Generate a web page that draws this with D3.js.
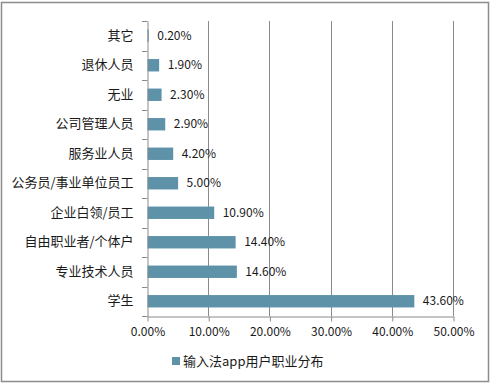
<!DOCTYPE html>
<html>
<head>
<meta charset="utf-8">
<script src="https://cdn.jsdelivr.net/npm/d3@7"></script>
<style>
  body { margin: 0; background: #fff; }
  text { font-family: "Noto Sans CJK SC", "Noto Sans", sans-serif; fill: #1a1a1a; }
</style>
</head>
<body>
<div id="chart"></div>
<script>
// categories, top to bottom
var categories = ["其它", "退休人员", "无业", "公司管理人员", "服务业人员",
                  "公务员/事业单位员工", "企业白领/员工", "自由职业者/个体户", "专业技术人员", "学生"];
var values = [0.2, 1.9, 2.3, 2.9, 4.2, 5.0, 10.9, 14.4, 14.6, 43.6];
var xTicks = [0, 10, 20, 30, 40, 50];
var seriesName = "输入法app用户职业分布";

var W = 494, H = 386;
var margin = {top: 21, right: 41, bottom: 70, left: 147};
var width = W - margin.left - margin.right,
    height = H - margin.top - margin.bottom;

var svg = d3.select("#chart").append("svg")
    .attr("width", W).attr("height", H);

// outer frame
svg.append("rect")
    .attr("x", 1.5).attr("y", 2.5)
    .attr("width", 487).attr("height", 379)
    .attr("fill", "none").attr("stroke", "#8c8c8c").attr("stroke-width", 1.5);

var g = svg.append("g")
    .attr("transform", "translate(" + margin.left + "," + margin.top + ")");

var x = d3.scaleLinear().domain([0, 50]).range([0, width]);
var y = d3.scaleBand().domain(categories).range([0, height]).paddingInner(0.58).paddingOuter(0.29);

// gridlines
g.append("g")
  .selectAll("line")
  .data(xTicks.slice(1))
  .enter().append("line")
  .attr("x1", function(d) { return Math.round(x(d)) + 0.5; })
  .attr("x2", function(d) { return Math.round(x(d)) + 0.5; })
  .attr("y1", 0).attr("y2", height)
  .attr("stroke", "#8a8a8a");

// bars
g.append("g")
  .selectAll("rect")
  .data(values)
  .enter().append("rect")
  .attr("x", x(0) + 0.5)
  .attr("y", function(d, i) { return y(categories[i]); })
  .attr("width", function(d) { return x(d); })
  .attr("height", y.bandwidth())
  .attr("fill", "#5d92a8");

// value labels
g.append("g")
  .selectAll("text")
  .data(values)
  .enter().append("text")
  .attr("x", function(d) { return x(d) + 9; })
  .attr("y", function(d, i) { return y(categories[i]) + y.bandwidth() / 2; })
  .attr("dy", "0.35em")
  .attr("font-size", 12)
  .text(function(d) { return d.toFixed(2) + "%"; });

// y axis
var yAxis = g.append("g")
  .attr("transform", "translate(0.5,0)")
  .call(d3.axisLeft(y).tickSize(0).tickPadding(14));
yAxis.select(".domain").attr("stroke", "#8a8a8a");
yAxis.selectAll("text").attr("font-size", 13);
// y ticks at band boundaries
var bounds = d3.range(categories.length + 1).map(function(i) { return i * height / categories.length; });
g.append("g").selectAll("line").data(bounds).enter().append("line")
  .attr("x1", -5).attr("x2", 0.5)
  .attr("y1", function(d) { return Math.round(d) + 0.5; })
  .attr("y2", function(d) { return Math.round(d) + 0.5; })
  .attr("stroke", "#8a8a8a");

// x axis
var xAxis = g.append("g")
  .attr("transform", "translate(0.5," + (Math.round(height) + 0.5) + ")")
  .call(d3.axisBottom(x).tickValues(xTicks).tickSize(5).tickSizeOuter(0).tickPadding(6)
        .tickFormat(function(d) { return d.toFixed(2) + "%"; }));
xAxis.select(".domain").attr("stroke", "#8a8a8a");
xAxis.selectAll("line").attr("stroke", "#8a8a8a");
xAxis.selectAll("text").attr("font-size", 12);

// legend
var lg = svg.append("g").attr("transform", "translate(172,357)");
lg.append("rect").attr("width", 8).attr("height", 8).attr("fill", "#5d92a8");
lg.append("text").attr("x", 11).attr("y", 4).attr("dy", "0.35em")
  .attr("font-size", 13).text(seriesName);
</script>
</body>
</html>
